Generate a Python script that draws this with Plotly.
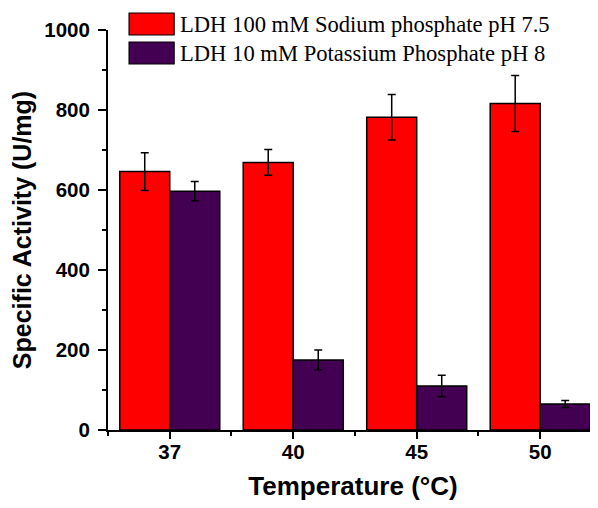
import plotly.graph_objects as go

temps = ["37", "40", "45", "50"]
series_names = ["LDH 100 mM Sodium phosphate pH 7.5", "LDH 10 mM Potassium Phosphate pH 8"]
sodium_vals = [646, 669, 782, 816]
sodium_err = [47, 32, 57, 70]
potassium_vals = [597, 175, 110, 65]
potassium_err = [24, 25, 27, 9]
colors = ["#FF0000", "#430052"]

x_pos = list(range(len(temps)))

fig = go.Figure()
for name, vals, errs, col in [
    (series_names[0], sodium_vals, sodium_err, colors[0]),
    (series_names[1], potassium_vals, potassium_err, colors[1]),
]:
    fig.add_trace(go.Bar(
        x=x_pos, y=vals, name=name,
        marker=dict(color=col, line=dict(color="black", width=1.5)),
        error_y=dict(type="data", array=errs, color="black", thickness=1.5, width=4),
        showlegend=False,
    ))

# legend drawn as swatches + text
legend_rows = [(1.0425, 0.9875, 1.015), (0.97, 0.915, 0.9425)]
for (y0, y1, yc), name, col in zip(legend_rows, series_names, colors):
    fig.add_shape(type="rect", xref="paper", yref="paper", x0=0.043, x1=0.135, y0=y1, y1=y0,
                  fillcolor=col, line=dict(color="black", width=1.2))
    fig.add_annotation(xref="paper", yref="paper", x=0.143, y=yc, text=name, showarrow=False,
                       xanchor="left", yanchor="middle",
                       font=dict(family="Liberation Serif, Times New Roman, serif", size=22.6, color="black"))

axis_font = dict(family="Liberation Sans, Arial, sans-serif", size=20.5, color="black", weight="bold")
fig.update_layout(
    width=590, height=500,
    margin=dict(l=100, r=0, t=22, b=78, autoexpand=False),
    plot_bgcolor="white", paper_bgcolor="white",
    barmode="group", bargap=0.19, bargroupgap=0,
    xaxis=dict(
        tickmode="array", tickvals=x_pos, ticktext=temps,
        range=[-0.5, 3.468], automargin=False,
        showline=True, linecolor="black", linewidth=2,
        ticks="outside", ticklen=7, tickwidth=1.5, tickcolor="black", ticklabelstandoff=-5,
        minor=dict(tickvals=[-0.5, 0.5, 1.5, 2.5], ticks="outside", ticklen=4, tickwidth=1.5, tickcolor="black"),
        tickfont=axis_font,
        title=dict(text="Temperature (°C)", font=dict(family="Liberation Sans, Arial, sans-serif", size=26, color="black", weight="bold")),
        showgrid=False, zeroline=False,
    ),
    yaxis=dict(
        range=[0, 1000], dtick=200, automargin=False,
        showline=True, linecolor="black", linewidth=2,
        ticks="outside", ticklen=8, tickwidth=1.5, tickcolor="black", ticklabelstandoff=4,
        minor=dict(dtick=100, ticks="outside", ticklen=4, tickwidth=1.5, tickcolor="black"),
        tickfont=axis_font,
        title=dict(text="Specific Activity (U/mg)", standoff=10,
                   font=dict(family="Liberation Sans, Arial, sans-serif", size=25, color="black", weight="bold")),
        showgrid=False, zeroline=False,
    ),
)

fig.write_html("out.html")
